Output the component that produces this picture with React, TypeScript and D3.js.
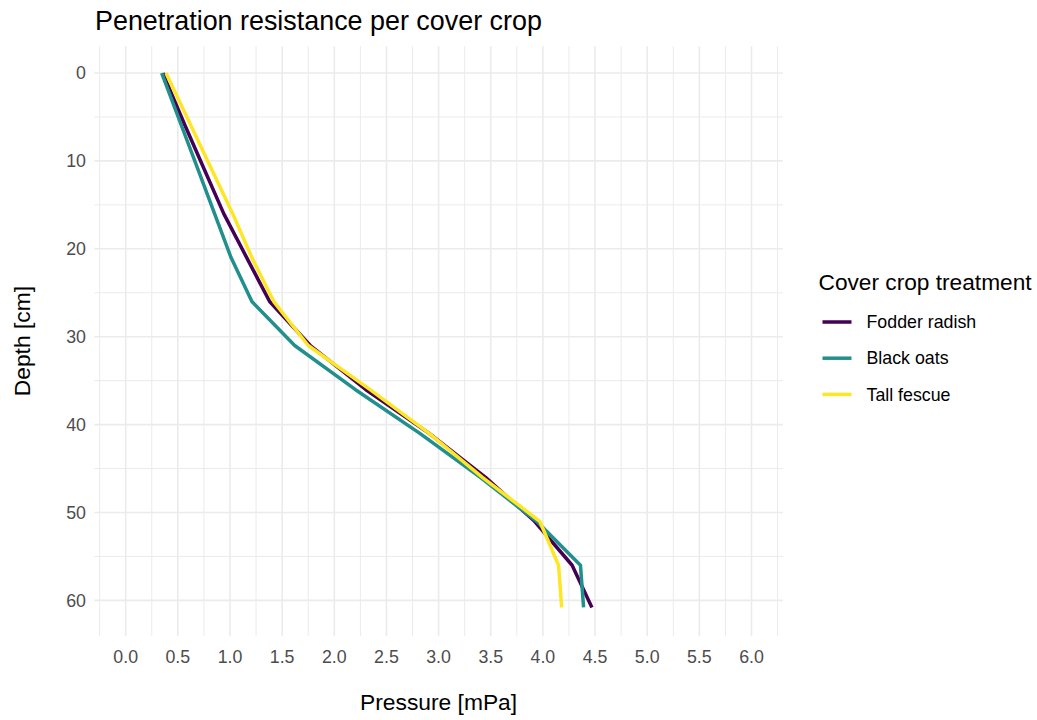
import React from "react";
import * as d3 from "d3";

const depths = [0, 1, 6, 11, 16, 21, 26, 31, 36, 41, 46, 51, 56, 60.8];
const fodderRadish = [0.36, 0.39, 0.57, 0.755, 0.94, 1.16, 1.38, 1.77, 2.3, 2.91, 3.45, 3.92, 4.28, 4.47];
const blackOats = [0.345, 0.377, 0.535, 0.694, 0.852, 1.01, 1.21, 1.62, 2.2, 2.82, 3.4, 3.94, 4.36, 4.39];
const tallFescue = [0.386, 0.426, 0.626, 0.826, 1.026, 1.21, 1.42, 1.75, 2.34, 2.91, 3.42, 3.97, 4.15, 4.18];

const seriesNames = ["Fodder radish", "Black oats", "Tall fescue"];
const seriesValues = [fodderRadish, blackOats, tallFescue];
const seriesColors = ["#440154", "#21908C", "#FDE725"];

const xTicks = [0, 0.5, 1, 1.5, 2, 2.5, 3, 3.5, 4, 4.5, 5, 5.5, 6];
const xMinor = [-0.25, 0.25, 0.75, 1.25, 1.75, 2.25, 2.75, 3.25, 3.75, 4.25, 4.75, 5.25, 5.75, 6.25];
const yTicks = [0, 10, 20, 30, 40, 50, 60];
const yMinor = [5, 15, 25, 35, 45, 55];

const W = 1037;
const H = 720;
const FONT = "'Liberation Sans', Arial, sans-serif";

export default function App() {
  const x = d3.scaleLinear().domain([-0.3, 6.3]).range([94.4, 782.8]);
  const y = d3.scaleLinear().domain([-3.05, 64.05]).range([46.2, 636]);
  const [x0, x1] = x.range();
  const [y0, y1] = y.range();
  const grid = "#EBEBEB";

  const line = d3
    .line<[number, number]>()
    .x((d) => x(d[0]))
    .y((d) => y(d[1]));

  return (
    <svg
      width={W}
      height={H}
      style={{ position: "absolute", left: 0, top: 0, background: "#fff" }}
      fontFamily={FONT}
    >
      <rect width={W} height={H} fill="#fff" />
      {xMinor.map((v) => (
        <line key={"xm" + v} x1={x(v)} x2={x(v)} y1={y0} y2={y1} stroke={grid} strokeWidth={1} />
      ))}
      {yMinor.map((v) => (
        <line key={"ym" + v} x1={x0} x2={x1} y1={y(v)} y2={y(v)} stroke={grid} strokeWidth={1} />
      ))}
      {xTicks.map((v) => (
        <line key={"xM" + v} x1={x(v)} x2={x(v)} y1={y0} y2={y1} stroke={grid} strokeWidth={1.6} />
      ))}
      {yTicks.map((v) => (
        <line key={"yM" + v} x1={x0} x2={x1} y1={y(v)} y2={y(v)} stroke={grid} strokeWidth={1.6} />
      ))}

      {seriesValues.map((vals, i) => (
        <path
          key={seriesNames[i]}
          d={line(vals.map((v, j) => [v, depths[j]] as [number, number])) || ""}
          fill="none"
          stroke={seriesColors[i]}
          strokeWidth={3.5}
          strokeLinejoin="round"
        />
      ))}

      {xTicks.map((v) => (
        <text key={"xt" + v} x={x(v)} y={663} textAnchor="middle" fontSize={17.8} fill="#4D4D4D">
          {v.toFixed(1)}
        </text>
      ))}
      {yTicks.map((v) => (
        <text key={"yt" + v} x={86} y={y(v) + 6.3} textAnchor="end" fontSize={17.8} fill="#4D4D4D">
          {v}
        </text>
      ))}

      <text x={(x0 + x1) / 2} y={710} textAnchor="middle" fontSize={22.8} fill="#000">
        Pressure [mPa]
      </text>
      <text
        transform={`translate(30,${(y0 + y1) / 2}) rotate(-90)`}
        textAnchor="middle"
        fontSize={22.8}
        fill="#000"
      >
        Depth [cm]
      </text>
      <text x={95} y={30} fontSize={26.9} fill="#000">
        Penetration resistance per cover crop
      </text>

      <text x={818.5} y={290} fontSize={22.7} fill="#000">
        Cover crop treatment
      </text>
      {seriesNames.map((n, i) => (
        <g key={"lg" + n} transform={`translate(0,${322 + i * 36.2})`}>
          <line x1={822.5} x2={851.5} y1={0} y2={0} stroke={seriesColors[i]} strokeWidth={3.5} />
          <text x={866.5} y={6.2} fontSize={17.8} fill="#000">
            {n}
          </text>
        </g>
      ))}
    </svg>
  );
}
